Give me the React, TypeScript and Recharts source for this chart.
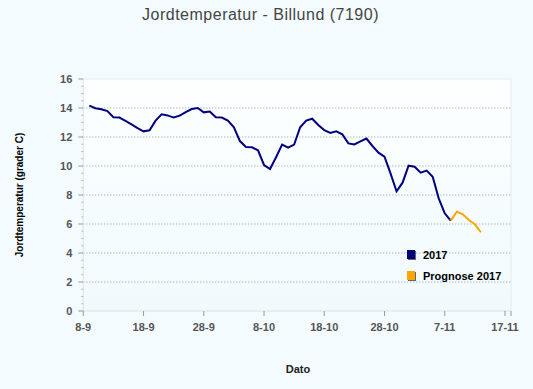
import React from "react";
import {
  LineChart,
  Line,
  XAxis,
  YAxis,
  ReferenceLine,
  ReferenceArea,
} from "recharts";

// Day index 0 = 8-9 (2017)
const tickDays = [0, 10, 20, 30, 40, 50, 60, 70, 71];
const tickLabels = ["8-9", "18-9", "28-9", "8-10", "18-10", "28-10", "7-11", "17-11", ""];

const firstDay2017 = 1;
const values2017 = [
  14.16, 13.98, 13.91, 13.79, 13.36, 13.34, 13.11, 12.87, 12.62, 12.39,
  12.46, 13.13, 13.56, 13.49, 13.34, 13.47, 13.72, 13.93, 14.0, 13.7,
  13.75, 13.36, 13.34, 13.13, 12.67, 11.72, 11.31, 11.29, 11.08, 10.07,
  9.79, 10.6, 11.48, 11.27, 11.48, 12.67, 13.13, 13.26, 12.83, 12.48,
  12.28, 12.39, 12.18, 11.56, 11.49, 11.7, 11.89, 11.38, 10.92, 10.64,
  9.49, 8.25, 8.85, 10.02, 9.95, 9.54, 9.68, 9.26, 7.77, 6.74,
  6.23,
];

const firstDayPrognose = 61;
const valuesPrognose = [6.23, 6.85, 6.67, 6.28, 5.98, 5.43];

const seriesNames = ["2017", "Prognose 2017"];
const seriesColors = ["#000080", "#ffa500"];

const yGridValues = [2, 4, 6, 8, 10, 12, 14];
const yMajorTicks = [0, 2, 4, 6, 8, 10, 12, 14, 16];
const yAllTicks = Array.from({ length: 33 }, (_, i) => i * 0.5);

type Row = { day: number; a?: number; p?: number };
const rowsMap: Record<number, Row> = {};
values2017.forEach((v, i) => {
  const d = firstDay2017 + i;
  rowsMap[d] = { ...(rowsMap[d] || { day: d }), a: v };
});
valuesPrognose.forEach((v, i) => {
  const d = firstDayPrognose + i;
  rowsMap[d] = { ...(rowsMap[d] || { day: d }), p: v };
});
const data: Row[] = Object.values(rowsMap).sort((x, y) => x.day - y.day);

const FONT = '"Liberation Sans", Arial, sans-serif';

const YTick = (props: any) => {
  const { x, y, payload } = props;
  const v = payload.value as number;
  const major = yMajorTicks.includes(v);
  const axisX = x + 11;
  return (
    <g>
      <line
        x1={axisX - (major ? 5 : 2)}
        x2={axisX}
        y1={y}
        y2={y}
        stroke={major ? "#999" : "#bbb"}
        strokeWidth={1}
      />
      {major && (
        <text
          x={x}
          y={y}
          textAnchor="end"
          dominantBaseline="central"
          fontFamily={FONT}
          fontSize={11}
          fontWeight="bold"
          fill="#555"
        >
          {v}
        </text>
      )}
    </g>
  );
};

export default function App() {
  return (
    <div
      style={{
        position: "absolute",
        left: 0,
        top: 0,
        width: 533,
        height: 389,
        background: "#f3fbfe",
        overflow: "hidden",
        fontFamily: FONT,
      }}
    >
      <div
        style={{
          position: "absolute",
          left: 0,
          width: 521,
          top: 6,
          textAlign: "center",
          fontSize: 16,
          letterSpacing: 0.5,
          color: "#444",
        }}
      >
        Jordtemperatur - Billund (7190)
      </div>
      <div
        style={{
          position: "absolute",
          left: 19,
          top: 195,
          transform: "translate(-50%, -50%) rotate(-90deg)",
          whiteSpace: "nowrap",
          fontSize: 10,
          fontWeight: "bold",
          color: "#000",
        }}
      >
        Jordtemperatur (grader C)
      </div>
      <div
        style={{
          position: "absolute",
          left: 298,
          top: 369,
          transform: "translate(-50%, -50%)",
          fontSize: 11,
          fontWeight: "bold",
          color: "#222",
        }}
      >
        Dato
      </div>
      <div style={{ position: "absolute", left: 0, top: 0 }}>
        <LineChart
          width={533}
          height={389}
          data={data}
          margin={{ top: 79, right: 22, left: 0, bottom: 0 }}
        >
          <defs>
            <linearGradient id="plotGrad" x1="0" y1="0" x2="0" y2="1">
              <stop offset="0%" stopColor="#fdffff" />
              <stop offset="100%" stopColor="#f0fafd" />
            </linearGradient>
          </defs>
          <XAxis
            type="number"
            dataKey="day"
            domain={[0, 71]}
            ticks={tickDays}
            interval={0}
            tickFormatter={(v: number) => tickLabels[tickDays.indexOf(v)] ?? ""}
            axisLine={{ stroke: "#e2e8ea" }}
            tickLine={{ stroke: "#999" }}
            tickSize={5}
            tickMargin={7}
            height={78}
            tick={{
              fontFamily: FONT,
              fontSize: 11,
              fontWeight: "bold",
              fill: "#555",
            }}
            allowDataOverflow
          />
          <YAxis
            type="number"
            domain={[0, 16]}
            ticks={yAllTicks}
            interval={0}
            width={83.3}
            axisLine={{ stroke: "#e2e8ea" }}
            tickLine={false}
            tickSize={5}
            tickMargin={6}
            tick={<YTick />}
            allowDataOverflow
          />
          <ReferenceArea
            x1={0}
            x2={71}
            y1={0}
            y2={16}
            fill="url(#plotGrad)"
            fillOpacity={1}
            stroke="#e6ecef"
            strokeWidth={1}
            ifOverflow="visible"
          />
          {yGridValues.map((v) => (
            <ReferenceLine
              key={v}
              y={v}
              stroke="#999"
              strokeDasharray="1 2"
              strokeWidth={1}
            />
          ))}
          <Line
            type="linear"
            dataKey="a"
            name={seriesNames[0]}
            stroke={seriesColors[0]}
            strokeWidth={2}
            dot={false}
            isAnimationActive={false}
          />
          <Line
            type="linear"
            dataKey="p"
            name={seriesNames[1]}
            stroke={seriesColors[1]}
            strokeWidth={2}
            dot={false}
            isAnimationActive={false}
          />
        </LineChart>
      </div>
      <div style={{ position: "absolute", left: 407, top: 244 }}>
        {seriesNames.map((name, i) => (
          <div
            key={name}
            style={{ display: "flex", alignItems: "center", height: 21 }}
          >
            <span
              style={{
                display: "inline-block",
                width: 8,
                height: 9,
                background: seriesColors[i],
                boxShadow: "1px 1px 0 #666",
                marginRight: 8,
              }}
            />
            <span style={{ fontSize: 11, fontWeight: "bold", color: "#000" }}>
              {name}
            </span>
          </div>
        ))}
      </div>
    </div>
  );
}
